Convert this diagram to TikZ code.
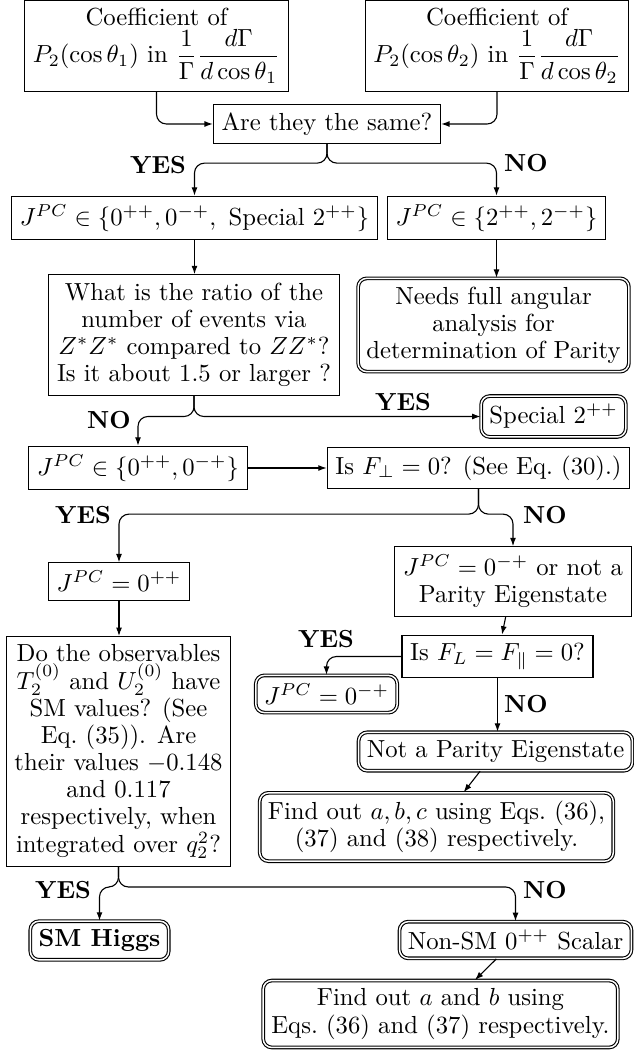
\documentclass[tikz,border=0pt]{standalone}
\usetikzlibrary{arrows.meta,calc}
\begin{document}
\begin{tikzpicture}[x=0.405pt,y=-0.405pt,
  font=\fontsize{10pt}{11pt}\selectfont,
  box/.style={draw, align=center, inner sep=3.33pt, line width=0.45pt},
  dbox/.style={box, double, rounded corners=3.5pt},
  arr/.style={-{Latex[length=3.4pt,width=2.4pt]}, rounded corners=4pt, line width=0.45pt},
  lbl/.style={font=\fontsize{10pt}{11pt}\selectfont\bfseries, inner sep=0pt}]
\useasboundingbox (0,0) rectangle (633,1051);

\node[box] (A) at (156.5,46) {Coefficient of\\ $P_2(\cos\theta_1)$ in $\displaystyle\frac{1}{\Gamma}\frac{d\Gamma}{d\cos\theta_1}$};
\node[box] (B) at (497,46) {Coefficient of\\ $P_2(\cos\theta_2)$ in $\displaystyle\frac{1}{\Gamma}\frac{d\Gamma}{d\cos\theta_2}$};
\node[box] (C) at (327,124) {Are they the same?};
\node[box] (J1) at (194.5,218) {$J^{PC}\in\{0^{++},0^{-+},\ \mbox{Special }2^{++}\}$};
\node[box] (J2) at (496.5,218) {$J^{PC}\in\{2^{++},2^{-+}\}$};
\node[box] (W) at (194,335) {What is the ratio of the\\ number of events via\\ $Z^*Z^*$ compared to $ZZ^*$?\\ Is it about 1.5 or larger ?};
\node[dbox] (N) at (493.5,325) {Needs full angular\\ analysis for\\ determination of Parity};
\node[dbox] (S) at (553.5,416.5) {Special $2^{++}$};
\node[box] (J3) at (138,468) {$J^{PC}\in\{0^{++},0^{-+}\}$};
\node[box] (P) at (478.5,468) {Is $F_\perp=0$? (See Eq.~(30).)};
\node[box] (J4) at (119,581.5) {$J^{PC}=0^{++}$};
\node[box] (J5) at (513,581.5) {$J^{PC}=0^{-+}$ or not a\\ Parity Eigenstate};
\node[box] (L) at (497.5,656.5) {Is $F_L=F_\parallel=0$?};
\node[dbox] (J6) at (326.5,694) {$J^{PC}=0^{-+}$};
\node[dbox] (NP) at (495.5,751.5) {Not a Parity Eigenstate};
\node[dbox] (F3) at (436.5,827) {Find out $a,b,c$ using Eqs.~(36),\\ (37) and (38) respectively.};
\node[box] (D) at (118.5,751.5) {Do the observables\\ $T_2^{(0)}$ and $U_2^{(0)}$ have\\ SM values? (See\\ Eq.~(35)). Are\\ their values $-0.148$\\ and 0.117\\ respectively, when\\ integrated over $q_2^2$?};
\node[dbox] (H) at (99.5,940.5) {\textbf{SM Higgs}};
\node[dbox] (NS) at (515.5,940) {Non-SM $0^{++}$ Scalar};
\node[dbox] (F2) at (440.5,1014) {Find out $a$ and $b$ using\\ Eqs.~(36) and (37) respectively.};

\draw[arr] (A.south) |- (C.west);
\draw[arr] (B.south) |- (C.east);
\coordinate (c1) at ($(C.south)+(0,19)$);
\draw[arr] (C.south) -- (c1) -| (J1.north);
\draw[arr] (C.south) -- (c1) -| (J2.north);
\draw[arr] (J1.south) -- (J1.south |- W.north);
\draw[arr] (J2.south) -- (J2.south |- N.north);
\coordinate (w1) at (W.south |- S.west);
\draw[arr] (W.south) -- (w1) -| (J3.north);
\draw[arr] (W.south) |- (S.west);
\draw[arr] (J3.east) -- (P.west);
\coordinate (p1) at ($(P.south)+(0,25)$);
\draw[arr] (P.south) -- (p1) -| (J4.north);
\draw[arr] (P.south) -- (p1) -| (J5.north);
\draw[arr] (J4.south) -- (J4.south |- D.north);
\draw[arr] (J5) -- (L);
\draw[arr] (L.west) -| (J6.north);
\draw[arr] (L.south) -- (L.south |- NP.north);
\draw[arr] (NP) -- (F3);
\coordinate (d1) at ($(D.south)+(0,20)$);
\draw[arr] (D.south) -- (d1) -| (H.north);
\draw[arr] (D.south) -- (d1) -| (NS.north);
\draw[arr] (NS) -- (F2);

\node[lbl] (l1) at (158,165) {YES};
\node[lbl] (l2) at (526,163) {NO};
\node[lbl] (l3) at (109,420) {NO};
\node[lbl] (l4) at (403,402) {YES};
\node[lbl] (l5) at (83,515) {YES};
\node[lbl] (l6) at (545,515) {NO};
\node[lbl] (l7) at (326,639) {YES};
\node[lbl] (l8) at (526,704) {NO};
\node[lbl] (l9) at (63,890) {YES};
\node[lbl] (l10) at (545,890) {NO};
\end{tikzpicture}
\end{document}
